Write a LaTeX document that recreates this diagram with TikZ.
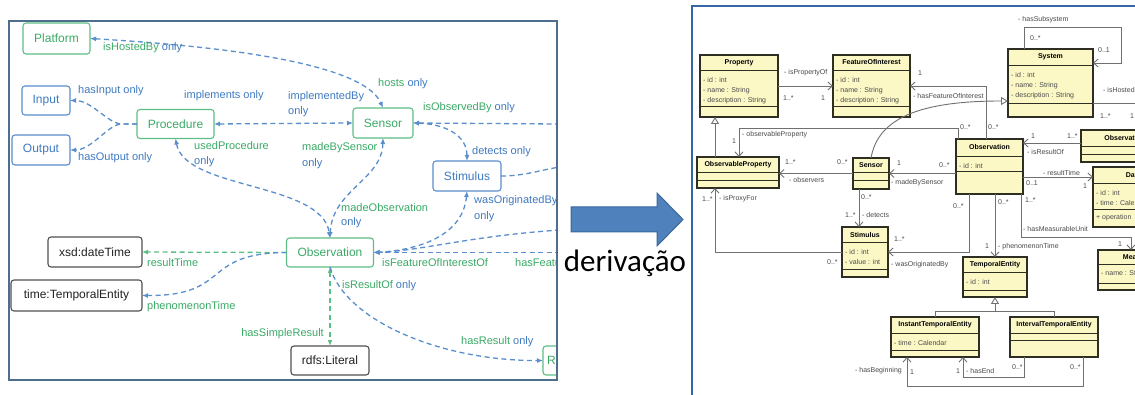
\documentclass[tikz,border=0pt]{standalone}
\usepackage{fontspec}
\setmainfont{Liberation Sans}
\newfontfamily\calfont{Carlito}
\usetikzlibrary{arrows.meta,calc}

\definecolor{gn}{HTML}{3AAA66}
\definecolor{gnb}{HTML}{5CBF86}
\definecolor{bl}{HTML}{3F7AC0}
\definecolor{blb}{HTML}{5A8ECC}
\definecolor{dk}{HTML}{222222}
\definecolor{dkb}{HTML}{505050}
\definecolor{framel}{HTML}{4E6E8E}
\definecolor{framer}{HTML}{3566A6}
\definecolor{umlfill}{HTML}{FCF8C6}
\definecolor{umledge}{HTML}{2E2E22}
\definecolor{umlline}{HTML}{707070}
\definecolor{umltext}{HTML}{4A4A4A}
\definecolor{arrowfill}{HTML}{4F81BD}
\definecolor{arrowedge}{HTML}{3B679C}

\tikzset{
  box/.style={draw, rounded corners=3pt, line width=1.1pt, fill=white, inner sep=0pt, outer sep=0pt,
    font=\fontsize{12}{14}\selectfont},
  gbox/.style={box, draw=gnb, text=gn},
  bbox/.style={box, draw=blb, text=bl},
  kbox/.style={box, draw=dkb, text=dk},
  dl/.style={dash pattern=on 5pt off 3.5pt, line width=1.3pt},
  bdl/.style={dl, draw=blb},
  gdl/.style={dl, draw=gnb},
  lbl/.style={inner sep=0pt, anchor=west, font=\fontsize{11}{13}\selectfont},
  umlcls/.style={draw=umledge, fill=umlfill, line width=1.4pt, inner sep=0pt, outer sep=0pt},
  umlsep/.style={draw=umledge, line width=0.9pt},
  umltitle/.style={font=\fontsize{7}{8}\selectfont\bfseries, inner sep=0pt, text=black},
  umlattr/.style={font=\fontsize{7}{8}\selectfont, inner sep=0pt, anchor=west, text=umltext},
  umllbl/.style={font=\fontsize{7}{8}\selectfont, inner sep=0pt, anchor=west, text=umltext},
  assoc/.style={draw=umlline, line width=0.9pt},
  nav/.style={assoc, -{Straight Barb[length=4.5pt,width=8pt,line width=0.9pt]}},
  gen/.style={assoc, -{Triangle[open,length=7pt,width=8pt,fill=white,line width=0.9pt]}},
}

% UML class: name, x1, y1, x2, y2, header bottom, separator, title, attributes
\newcommand\umlclass[9]{%
  \pgfmathsetmacro\ucw{#4-#2}%
  \pgfmathsetmacro\uch{#5-#3}%
  \node[umlcls, minimum width=\ucw pt, minimum height=\uch pt] (#1) at ({(#2+#4)/2},{(#3+#5)/2}) {};
  \draw[umlsep] (#2,#6) -- (#4,#6);
  \draw[umlsep] (#2,#7) -- (#4,#7);
  \node[umltitle] (#1-t) at ({(#2+#4)/2},{(#3+#6)/2}) {#8};
  \if\relax\detokenize{#9}\relax\else
    \foreach \t [count=\i] in {#9} {\node[umlattr] (#1-a\i) at ({#2+3},{#6+10.3*\i-0.3}) {\t};}
  \fi
}

\begin{document}
\begin{tikzpicture}[x=1pt, y=-1pt, >={Latex[length=6pt,width=5pt]}]
\useasboundingbox (0,0) rectangle (1135,395);
\fill[white] (0,0) rectangle (1135,395);

% ---------------- ontology view ----------------
\begin{scope}
\clip (9,21) rectangle (557,380);
\node[gbox, minimum width=67pt, minimum height=31pt] (plat) at (56.5,38.5) {Platform};
\node[bbox, minimum width=48pt, minimum height=29pt] (inp) at (46,100.5) {Input};
\node[bbox, minimum width=58pt, minimum height=30pt] (outp) at (41,150) {Output};
\node[gbox, minimum width=77pt, minimum height=29pt] (proc) at (175.5,124) {Procedure};
\node[gbox, minimum width=60pt, minimum height=30pt] (sens) at (383,123) {Sensor};
\node[bbox, minimum width=68pt, minimum height=30pt] (stim) at (467,176) {Stimulus};
\node[gbox, minimum width=87pt, minimum height=29pt] (obs) at (330,252.5) {Observation};
\node[kbox, minimum width=94pt, minimum height=30pt] (xsd) at (95,252) {xsd:dateTime};
\node[kbox, minimum width=131pt, minimum height=31pt] (tte) at (76.5,295.5) {time:TemporalEntity};
\node[kbox, minimum width=78pt, minimum height=29pt] (lit) at (330,360.5) {rdfs:Literal};
\node[gbox, minimum width=42pt, minimum height=29pt] (res) at (564,360.5) {Result};

\coordinate (rs) at (560,124);
\coordinate (rstim) at (560,167);
\coordinate (robs1) at (560,230);
\coordinate (robs2) at (560,252.5);

\draw[bdl,<->] (plat.east) .. controls (200,45) and (362,60) .. (sens.north);
\draw[bdl,->] (proc.west) -- ++(-15,0) .. controls +(-14,0) and +(22,0) .. (inp.east);
\draw[bdl,->] (proc.west) -- ++(-15,0) .. controls +(-14,0) and +(22,0) .. (outp.east);
\draw[bdl,<->] (proc.east) -- (sens.west);
\draw[bdl,<->] (proc.south) .. controls (185,190) and (322,182) .. (obs.north);
\draw[bdl,<->] (sens.south) .. controls (382,180) and (332,190) .. (obs.north);
\draw[bdl,<->] (sens.east) .. controls (445,124) and (467,135) .. (stim.north);
\draw[bdl,->] (rs) -- (sens.east);
\draw[bdl] (stim.east) .. controls (525,176) and (540,170) .. (rstim);
\draw[bdl,<->] (stim.south) .. controls (463,235) and (420,250) .. (obs.east);
\draw[bdl,->] (robs1) .. controls (470,236) and (420,251) .. (obs.east);
\draw[bdl,->] (robs2) -- (obs.east);
\draw[gdl,->] (obs.west) -- (xsd.east);
\draw[bdl,->] (obs.west) .. controls (200,253) and (232,296) .. (tte.east);
\draw[gdl,<->] (obs.south) -- (lit.north);
\draw[bdl,->] (obs.south) .. controls (345,320) and (440,361) .. (res.west);

\node[lbl] (l1) at (103,48) {\textcolor{gn}{isHostedBy} \textcolor{bl}{only}};
\node[lbl] (l2) at (378,84) {\textcolor{gn}{hosts} \textcolor{bl}{only}};
\node[lbl, text=bl] (l3) at (78,91) {hasInput only};
\node[lbl, text=bl] (l4) at (78,158) {hasOutput only};
\node[lbl, text=bl] (l5) at (184,96) {implements only};
\node[lbl, text=bl] (l6) at (288,97) {implementedBy};
\node[lbl, text=bl] (l7) at (288,112) {only};
\node[lbl, text=gn] (l8) at (194,146) {usedProcedure};
\node[lbl, text=bl] (l9) at (194,162) {only};
\node[lbl, text=gn] (l10) at (302,148) {madeBySensor};
\node[lbl, text=bl] (l11) at (302,164) {only};
\node[lbl] (l12) at (423,108) {\textcolor{gn}{isObservedBy} \textcolor{bl}{only}};
\node[lbl, text=bl] (l13) at (472,152) {detects only};
\node[lbl, text=gn] (l14) at (341,208) {madeObservation};
\node[lbl, text=bl] (l15) at (341,223) {only};
\node[lbl, text=bl] (l16) at (474,201) {wasOriginatedBy};
\node[lbl, text=bl] (l17) at (474,217) {only};
\node[lbl, text=gn] (l18) at (382,263) {isFeatureOfInterestOf};
\node[lbl, text=gn] (l19) at (515,263) {hasFeatureOfInterest};
\node[lbl, text=gn] (l20) at (147,263) {resultTime};
\node[lbl, text=gn] (l21) at (147,307) {phenomenonTime};
\node[lbl, text=gn, anchor=east] (l22) at (324,334) {hasSimpleResult};
\node[lbl] (l23) at (342,286) {\textcolor{gn}{isResultOf} \textcolor{bl}{only}};
\node[lbl] (l24) at (461,342) {\textcolor{gn}{hasResult} \textcolor{bl}{only}};
\end{scope}
\draw[framel, line width=2pt] (9,21) rectangle (557,380);

% ---------------- derivation arrow ----------------
\draw[fill=arrowfill, draw=arrowedge, line width=1pt]
  (571,207) -- (657,207) -- (657,193) -- (683,219.5) -- (657,246) -- (657,232) -- (571,232) -- cycle;
\node[inner sep=0pt, anchor=base, font=\calfont\fontsize{31}{34}\selectfont] (deriv) at (625,272) {derivação};

% ---------------- UML class diagram ----------------
\begin{scope}
\clip (692,6) rectangle (1135,395);
\umlclass{prop}{700}{55}{778}{117}{70}{106}{Property}{- id : int,- name : String,- description : String}
\umlclass{foi}{833}{55}{910}{117}{70}{106}{FeatureOfInterest}{- id : int,- name : String,- description : String}
\umlclass{sys}{1008}{49}{1093}{117}{65}{103}{System}{- id : int,- name : String,- description : String}
\umlclass{obsr}{1081}{130}{1190}{162}{146}{154}{ObservationResult}{}
\umlclass{obsv}{956}{139}{1023}{194}{156}{171}{Observation}{- id : int}
\umlclass{dt}{1093}{167}{1190}{227}{183}{209}{DateTime}{- id : int,- time : Calendar}
\node[umlattr] (dt-op) at (1096,218) {+ operation};
\umlclass{mu}{1098}{250}{1200}{290}{264}{283}{MeasurableUnit}{- name : String}
\umlclass{te}{963}{257}{1027}{297}{272}{290}{TemporalEntity}{- id : int}
\umlclass{ite}{891}{317}{979}{357}{333}{350}{InstantTemporalEntity}{- time : Calendar}
\umlclass{ivte}{1010}{317}{1098}{357}{333}{340}{IntervalTemporalEntity}{}
\umlclass{obp}{697}{157}{779}{188}{172}{180}{ObservableProperty}{}
\umlclass{sen}{853}{158}{889}{189}{172}{180}{Sensor}{}
\umlclass{stm}{842}{227}{888}{277}{242}{269}{Stimulus}{- id : int,- value : int}

\coordinate (hostR) at (1140,103);
\coordinate (tej) at (995,311);

\draw[nav] (prop) -- (foi);
\draw[nav] ([xshift=16pt]sys.north west) |- (1121,27) |- ([yshift=20pt]sys.east);
\draw[assoc] ([yshift=-20pt]sys.east) -- (hostR);
\draw[nav] ([xshift=30pt]obsv.north west) |- (foi.east);
\draw[nav] ([xshift=2pt]obsv.north west) |- (739,128) -- ([xshift=42pt]obp.north west);
\draw[gen] ([xshift=18pt]obp.north west) -- ([xshift=15pt]prop.south west);
\draw[gen] (sen.north) .. controls (878,118) and (920,101) .. ([yshift=-18pt]sys.west);
\draw[nav] (sen.west) -- (sen.west -| obp.east);
\draw[nav] (obsv.west |- sen.west) -- (sen.east);
\draw[nav] ([xshift=6pt]sen.south west) -- ++(0,38);
\draw[nav] ([xshift=13pt]obsv.south west) |- (stm.east);
\draw[nav] (stm.west) -| ([xshift=18pt]obp.south west);
\draw[nav] ([yshift=3pt]obsr.west) -- ++(-58,0);
\draw[nav] ([yshift=-10.5pt]obsv.east) -- ++(70,0);
\draw[nav] (obsv.south -| te.north) -- (te.north);
\draw[nav] ([xshift=-2pt]obsv.south east) |- (1131,237) -- ([xshift=33pt]mu.north west);
\draw[assoc] (ite.north) |- (1054,311) -- (ivte.north);
\draw[gen] (tej) -- (te.south);
\draw[nav] ([xshift=-15pt]ivte.south east) |- (907,386) -- ([xshift=16pt]ite.south west);
\draw[nav] ([xshift=14pt]ivte.south west) |- (963,377) -- ([xshift=-16pt]ite.south east);

\node[umllbl] (r1) at (784,73) {- isPropertyOf};
\node[umllbl] (r2) at (783,98) {1..*};
\node[umllbl] (r3) at (821,98) {1};
\node[umllbl] (r4) at (918,73) {1};
\node[umllbl] (r5) at (913,96) {- hasFeatureOfInterest};
\node[umllbl] (r6) at (1018,20) {- hasSubsystem};
\node[umllbl] (r7) at (1030,38) {0..*};
\node[umllbl] (r8) at (1098,50) {0..1};
\node[umllbl] (r9) at (1103,91) {- isHostedBy};
\node[umllbl] (r10) at (1100,116) {1..*};
\node[umllbl] (r11) at (1130,116) {1};
\node[umllbl] (r12) at (960,127) {0..*};
\node[umllbl] (r13) at (988,127) {0..*};
\node[umllbl] (r14) at (732,141) {1};
\node[umllbl] (r15) at (742,135) {- observableProperty};
\node[umllbl] (r16) at (785,162) {1..*};
\node[umllbl] (r17) at (789,180) {- observers};
\node[umllbl] (r18) at (837,162) {0..*};
\node[umllbl] (r19) at (897,163) {1};
\node[umllbl] (r20) at (891,183) {- madeBySensor};
\node[umllbl] (r21) at (939,165) {0..*};
\node[umllbl] (r22) at (861,197) {0..*};
\node[umllbl] (r23) at (845,215) {1..*};
\node[umllbl] (r24) at (862,215) {- detects};
\node[umllbl] (r25) at (894,239) {1..*};
\node[umllbl] (r26) at (891,265) {- wasOriginatedBy};
\node[umllbl] (r27) at (827,262) {0..*};
\node[umllbl] (r28) at (702,199) {1..*};
\node[umllbl] (r29) at (719,199) {- isProxyFor};
\node[umllbl] (r30) at (953,206) {0..*};
\node[umllbl] (r31) at (998,202) {0..*};
\node[umllbl] (r32) at (1025,200) {1..*};
\node[umllbl] (r33) at (1023,229) {- hasMeasurableUnit};
\node[umllbl] (r34) at (1118,244) {1};
\node[umllbl] (r35) at (985,246) {1};
\node[umllbl] (r36) at (998,247) {- phenomenonTime};
\node[umllbl] (r37) at (1043,173) {- resultTime};
\node[umllbl] (r38) at (1026,183) {0..1};
\node[umllbl] (r39) at (1083,186) {1};
\node[umllbl] (r40) at (1031,136) {1};
\node[umllbl] (r41) at (1067,136) {1..*};
\node[umllbl] (r42) at (1027,152) {- isResultOf};
\node[umllbl] (r43) at (1012,367) {0..*};
\node[umllbl] (r44) at (1070,367) {0..*};
\node[umllbl] (r45) at (956,371) {1};
\node[umllbl] (r46) at (966,371) {- hasEnd};
\node[umllbl, anchor=east] (r47) at (902,371) {- hasBeginning};
\node[umllbl] (r48) at (910,372) {1};
\end{scope}
\draw[framer, line width=2.5pt] (692,400) -- (692,6) -- (1140,6);
\end{tikzpicture}
\end{document}
